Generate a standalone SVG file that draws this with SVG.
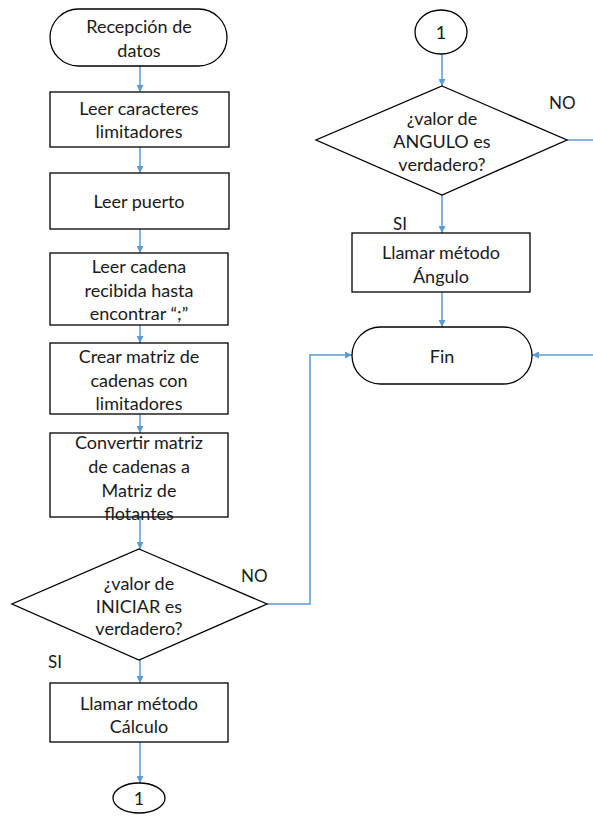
<svg xmlns="http://www.w3.org/2000/svg" width="593" height="819" viewBox="0 0 593 819">
  <style>
    .shape { fill: #ffffff; stroke: #000000; stroke-width: 1.3; }
    .txt { font-family: "Lato", "Liberation Sans", sans-serif; font-size: 18px; fill: #1a1a1a; text-anchor: middle; dominant-baseline: central; }
    .lbl { font-family: "Lato", "Liberation Sans", sans-serif; font-size: 17px; fill: #1a1a1a; dominant-baseline: central; }
    .conn { fill: none; stroke: #5B9BD5; stroke-width: 1.5; }
  </style>
  <defs>
    <marker id="arrow" viewBox="0 0 10 10" refX="10" refY="5" markerWidth="7" markerHeight="7" markerUnits="userSpaceOnUse" orient="auto">
      <path d="M0,0 L10,5 L0,10 z" fill="#5B9BD5"/>
    </marker>
  </defs>
  <rect width="593" height="819" fill="#ffffff"/>

  <!-- connectors -->
  <g id="connectors">
    <path class="conn" d="M140,66 V92" marker-end="url(#arrow)"/>
    <path class="conn" d="M140,147 V173" marker-end="url(#arrow)"/>
    <path class="conn" d="M140,229 V253" marker-end="url(#arrow)"/>
    <path class="conn" d="M140,325 V343" marker-end="url(#arrow)"/>
    <path class="conn" d="M140,414 V433" marker-end="url(#arrow)"/>
    <path class="conn" d="M140,517 V549" marker-end="url(#arrow)"/>
    <path class="conn" d="M140,660 V683" marker-end="url(#arrow)"/>
    <path class="conn" d="M140,742 V783" marker-end="url(#arrow)"/>
    <path class="conn" d="M267,604 H310 V355 H352" marker-end="url(#arrow)"/>
    <path class="conn" d="M442,54 V86" marker-end="url(#arrow)"/>
    <path class="conn" d="M567,140 H593"/>
    <path class="conn" d="M442,195 V233" marker-end="url(#arrow)"/>
    <path class="conn" d="M442,292 V327" marker-end="url(#arrow)"/>
    <path class="conn" d="M593,355 H532" marker-end="url(#arrow)"/>
    <text class="lbl" x="241" y="575">NO</text>
    <text class="lbl" x="48" y="661">SI</text>
    <text class="lbl" x="549" y="102">NO</text>
    <text class="lbl" x="393" y="223">SI</text>
  </g>

  <g id="start">
    <rect class="shape" x="50" y="9" width="177" height="57" rx="28.5"/>
    <text class="txt" x="139" y="26">Recepción de</text>
    <text class="txt" x="139" y="50">datos</text>
  </g>

  <g id="leer-caracteres">
    <rect class="shape" x="50" y="92" width="179" height="55"/>
    <text class="txt" x="139" y="108">Leer caracteres</text>
    <text class="txt" x="139" y="131">limitadores</text>
  </g>

  <g id="leer-puerto">
    <rect class="shape" x="50" y="173" width="179" height="56"/>
    <text class="txt" x="139" y="201">Leer puerto</text>
  </g>

  <g id="leer-cadena">
    <rect class="shape" x="50" y="253" width="178" height="72"/>
    <text class="txt" x="139" y="266">Leer cadena</text>
    <text class="txt" x="139" y="290">recibida hasta</text>
    <text class="txt" x="139" y="313">encontrar “;”</text>
  </g>

  <g id="crear-matriz">
    <rect class="shape" x="50" y="343" width="178" height="71"/>
    <text class="txt" x="139" y="356">Crear matriz de</text>
    <text class="txt" x="139" y="380">cadenas con</text>
    <text class="txt" x="139" y="403">limitadores</text>
  </g>

  <g id="convertir-matriz">
    <rect class="shape" x="50" y="433" width="178" height="84"/>
    <text class="txt" x="139" y="442">Convertir matriz</text>
    <text class="txt" x="139" y="466">de cadenas a</text>
    <text class="txt" x="139" y="490">Matriz de</text>
    <text class="txt" x="139" y="513">flotantes</text>
  </g>

  <g id="decision-iniciar">
    <polygon class="shape" points="139,549 267,604 139,660 12,604"/>
    <text class="txt" x="139" y="583">¿valor de</text>
    <text class="txt" x="139" y="606">INICIAR es</text>
    <text class="txt" x="139" y="628">verdadero?</text>
  </g>

  <g id="llamar-calculo">
    <rect class="shape" x="50" y="683" width="178" height="59"/>
    <text class="txt" x="139" y="703">Llamar método</text>
    <text class="txt" x="139" y="726">Cálculo</text>
  </g>

  <g id="conector-salida">
    <ellipse class="shape" cx="139" cy="798" rx="26" ry="15"/>
    <text class="txt" x="139" y="798">1</text>
  </g>

  <g id="conector-entrada">
    <ellipse class="shape" cx="441" cy="32" rx="26" ry="22"/>
    <text class="txt" x="441" y="32">1</text>
  </g>

  <g id="decision-angulo">
    <polygon class="shape" points="442,86 567,140 442,195 316,140"/>
    <text class="txt" x="442" y="118">¿valor de</text>
    <text class="txt" x="442" y="141">ANGULO es</text>
    <text class="txt" x="442" y="164">verdadero?</text>
  </g>

  <g id="llamar-angulo">
    <rect class="shape" x="352" y="233" width="178" height="59"/>
    <text class="txt" x="441" y="252">Llamar método</text>
    <text class="txt" x="441" y="276">Ángulo</text>
  </g>

  <g id="fin">
    <rect class="shape" x="352" y="327" width="180" height="57" rx="28.5"/>
    <text class="txt" x="442" y="356">Fin</text>
  </g>
</svg>
